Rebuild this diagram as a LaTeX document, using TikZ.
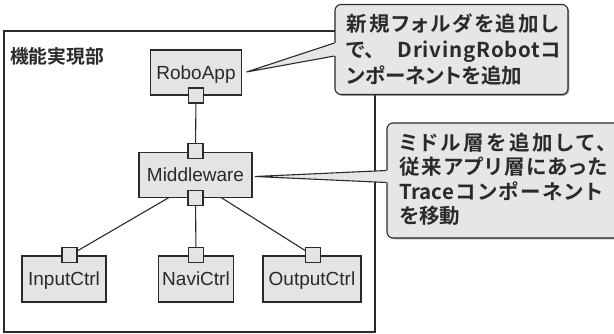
\documentclass[tikz,border=0pt]{standalone}
\usepackage{fontspec}
\setmainfont{Liberation Sans}
\newfontfamily\jp{Noto Sans CJK JP}[BoldFont={Noto Sans CJK JP Bold}, RawFeature=+palt]
\newfontfamily\jptitle{Noto Sans CJK JP}[BoldFont={Noto Sans CJK JP Bold}]
\usetikzlibrary{calc,shadows}
\definecolor{boxfill}{HTML}{E4E4E4}
\definecolor{callfill}{HTML}{E6E6E6}
\definecolor{ink}{HTML}{2A2A2A}
\newcommand\jline[2]{\hbox to #1{#2}}
\begin{document}
\begin{tikzpicture}[x=1pt,y=-1pt,
  comp/.style={draw=ink, fill=boxfill, line width=1.1pt, inner sep=0pt, text depth=0pt, text=ink,
    font=\fontsize{19}{19}\selectfont},
  port/.style={draw=ink, fill=boxfill, line width=1.1pt, minimum size=15pt, inner sep=0pt},
  link/.style={draw=ink, line width=1.1pt},
  frame/.style={draw=ink, line width=1.1pt, inner sep=0pt},
  callbox/.style={draw=ink, fill=callfill, line width=1.1pt, rounded corners=6pt, inner sep=0pt,
    drop shadow={shadow xshift=1.3pt, shadow yshift=-1.3pt, opacity=0.5, fill=black!70}},
  callptr/.style={draw=ink, line width=1.1pt},
  calltext/.style={font=\jp\bfseries\fontsize{20.5}{26}\selectfont, align=left, inner sep=0pt,
    anchor=north west, text=ink},
]
\useasboundingbox (0,0) rectangle (614,334);

% outer frame and title
\node[frame, minimum width=371pt, minimum height=301pt] (frame) at (189.5,181.5) {};
\node[anchor=west, inner sep=0pt, text=ink, font=\jptitle\bfseries\fontsize{18.8}{18.8}\selectfont] (title) at (10,56) {機能実現部};

% components
\node[comp, minimum width=91pt, minimum height=45pt] (robo) at (196,72.5) {RoboApp};
\node[comp, minimum width=113pt, minimum height=44.5pt] (mw) at (195.5,175) {Middleware};
\node[comp, minimum width=84pt, minimum height=46pt] (inp) at (64,279) {InputCtrl};
\node[comp, minimum width=75pt, minimum height=46pt] (navi) at (196,279) {NaviCtrl};
\node[comp, minimum width=98pt, minimum height=46pt] (outp) at (312,279) {OutputCtrl};

% links
\draw[link] (robo.south) -- (mw.north);
\draw[link] (mw.south) -- (navi.north);
\draw[link] ([xshift=-27pt]mw.south) -- ([xshift=5.5pt]inp.north);
\draw[link] ([xshift=26pt]mw.south) -- ([xshift=1pt]outp.north);

% ports
\node[port] (robo-p) at (robo.south) {};
\node[port] (mw-pt) at ([yshift=1.5pt]mw.north) {};
\node[port] (mw-pb) at (mw.south) {};
\node[port] (inp-p) at ([xshift=5.5pt]inp.north) {};
\node[port] (navi-p) at (navi.north) {};
\node[port] (outp-p) at ([xshift=1pt]outp.north) {};

% callout 1
\coordinate (c1tip) at (246.5,72);
\node[callbox, minimum width=233pt, minimum height=90pt] (c1) at (451.5,49.5) {};
\fill[callfill] (c1tip) -- ([yshift=6.5pt]c1.west) -- ([yshift=6.5pt,xshift=2pt]c1.west)
  -- ([yshift=-6.5pt,xshift=2pt]c1.west) -- ([yshift=-6.5pt]c1.west) -- cycle;
\draw[callptr] ([yshift=6.5pt]c1.west) -- (c1tip) -- ([yshift=-6.5pt]c1.west);
\node[calltext] (t1) at (346.5,13.5) {%
\jline{212pt}{新\hfil 規\hfil フ\hfil ォ\hfil ル\hfil ダ\hfil を\hfil 追\hfil 加\hfil し}\\
\jline{214pt}{で、\hfil {\addfontfeature{LetterSpace=4}DrivingRobot}コ}\\
ンポーネントを追加};

% callout 2
\coordinate (c2tip) at (255,176.5);
\node[callbox, minimum width=233pt, minimum height=115pt] (c2) at (503.5,180.5) {};
\fill[callfill] (c2tip) -- ([yshift=10pt]c2.west) -- ([yshift=10pt,xshift=2pt]c2.west)
  -- ([yshift=-2pt,xshift=2pt]c2.west) -- ([yshift=-2pt]c2.west) -- cycle;
\draw[callptr] ([yshift=10pt]c2.west) -- (c2tip) -- ([yshift=-2pt]c2.west);
\node[calltext, font=\jp\bfseries\fontsize{20.5}{24.5}\selectfont] (t2) at (399.5,132.5) {%
\jline{207pt}{ミ\hfil ド\hfil ル\hfil 層\hfil を\hfil 追\hfil 加\hfil し\hfil て\hfil 、}\\
\jline{208pt}{従\hfil 来\hfil ア\hfil プ\hfil リ\hfil 層\hfil に\hfil あ\hfil っ\hfil た}\\
\jline{203pt}{Trace\hfil コ\hfil ン\hfil ポ\hfil ー\hfil ネ\hfil ン\hfil ト}\\
を移動};
\end{tikzpicture}
\end{document}
